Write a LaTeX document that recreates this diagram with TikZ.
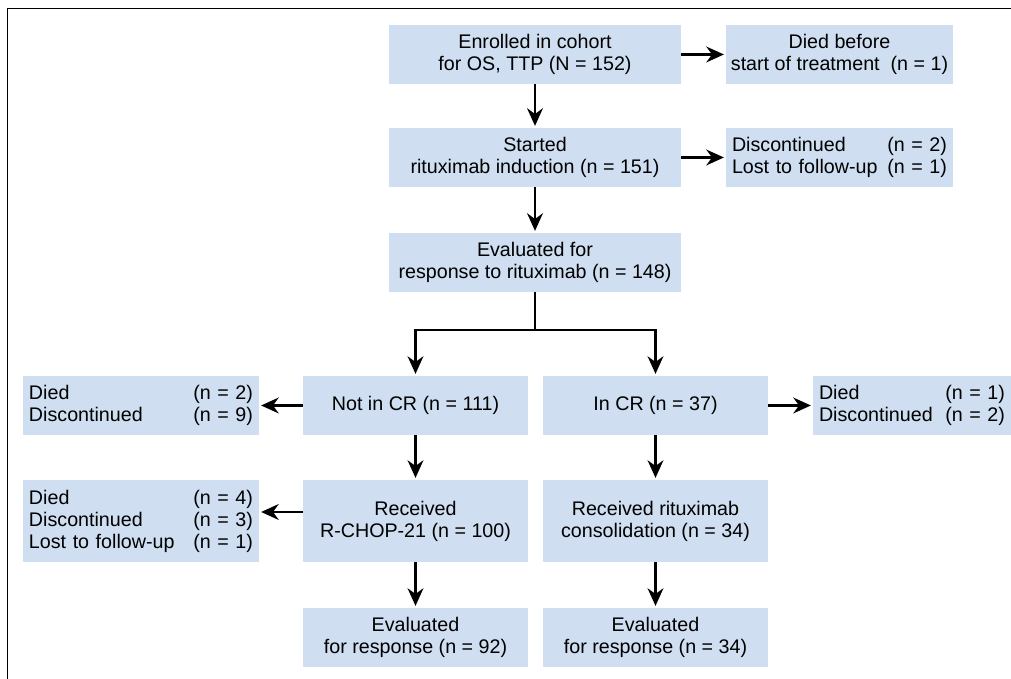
\documentclass[tikz,border=0pt]{standalone}
\usepackage{fontspec}
\setmainfont{Liberation Sans}
\usetikzlibrary{arrows.meta}
\definecolor{boxblue}{RGB}{207,222,240}
\tikzset{
  flowbox/.style={fill=boxblue, inner sep=0pt, align=center, minimum height=1.18cm,
    font=\fontsize{11.2}{12.5}\selectfont},
  listbox/.style={flowbox, align=left, inner xsep=0.12cm, text width=#1},
  arr/.style={-{Stealth[length=10pt,width=9pt]}, line width=1.4pt, shorten >=1pt},
  link/.style={line width=1.4pt}
}
\begin{document}
\begin{tikzpicture}
    \useasboundingbox (0,0) rectangle (20.22,13.58);
    \draw[line width=1pt] (0.15,0) -- (0.15,13.41) -- (20.22,13.41);
    % middle column
    \node[flowbox, minimum width=5.84cm] (enrol) at (10.70,12.49) {Enrolled in cohort\\for OS, TTP (N = 152)};
    \node[flowbox, minimum width=5.84cm] (start) at (10.70,10.43) {Started\\rituximab induction (n = 151)};
    \node[flowbox, minimum width=5.84cm] (eval) at (10.70,8.33) {Evaluated for\\response to rituximab (n = 148)};
    \node[flowbox, minimum width=4.54cm] (died0) at (16.79,12.49) {Died before\\start of treatment\ \ (n = 1)};
    \node[listbox=4.30cm, minimum height=1.18cm] (lost0) at (16.79,10.43) {Discontinued\hfill(n = 2)\\Lost to follow-up\hfill(n = 1)};
    % two arms
    \node[flowbox, minimum width=4.5cm] (notcr) at (8.31,5.47) {Not in CR (n = 111)};
    \node[flowbox, minimum width=4.5cm] (incr) at (13.11,5.47) {In CR (n = 37)};
    \node[flowbox, minimum width=4.5cm, minimum height=1.64cm] (rchop) at (8.31,3.16) {Received\\R-CHOP-21 (n = 100)};
    \node[flowbox, minimum width=4.5cm, minimum height=1.64cm] (consol) at (13.11,3.16) {Received rituximab\\consolidation (n = 34)};
    \node[flowbox, minimum width=4.5cm] (evalA) at (8.31,0.83) {Evaluated\\for response (n = 92)};
    \node[flowbox, minimum width=4.5cm] (evalB) at (13.11,0.83) {Evaluated\\for response (n = 34)};
    \node[listbox=4.48cm] (lost1) at (2.82,5.47) {Died\hfill(n = 2)\\Discontinued\hfill(n = 9)};
    \node[listbox=4.48cm, minimum height=1.64cm] (lost2) at (2.82,3.16) {Died\hfill(n = 4)\\Discontinued\hfill(n = 3)\\Lost to follow-up\hfill(n = 1)};
    \node[listbox=3.72cm] (lost3) at (18.24,5.47) {Died\hfill(n = 1)\\Discontinued\hfill(n = 2)};
    % connectors
    \foreach \a/\b in {enrol/start, start/eval, notcr/rchop, rchop/evalA, incr/consol, consol/evalB, enrol/died0, start/lost0, notcr/lost1, incr/lost3} {
      \draw[arr] (\a) -- (\b);
    }
    \draw[arr] ([yshift=0.18cm]rchop.west) -- ([yshift=0.18cm]lost2.east);
    \coordinate (split) at (10.70,6.98);
    \draw[link] (eval) -- (split);
    \draw[arr] (split) -| (notcr);
    \draw[arr] (split) -| (incr);
\end{tikzpicture}
\end{document}
